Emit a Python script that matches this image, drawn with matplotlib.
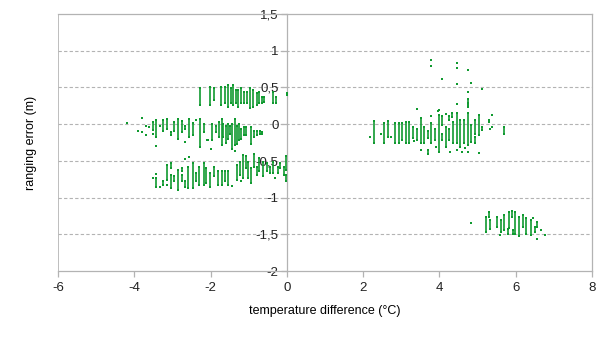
import numpy as np
import matplotlib
matplotlib.use("Agg")
import matplotlib.pyplot as plt

plt.rcParams['font.family'] = ['Liberation Sans', 'DejaVu Sans']
plt.rcParams['axes.unicode_minus'] = False

# each mark: (temperature difference, ranging error top, ranging error bottom)
# single points have top == bottom
upper_left = [
    (-2.28, 0.49, 0.26), (-2.02, 0.50, 0.26), (-1.91, 0.49, 0.33), (-1.73, 0.50, 0.26),
    (-1.63, 0.50, 0.29), (-1.55, 0.53, 0.23), (-1.47, 0.49, 0.29), (-1.42, 0.53, 0.26),
    (-1.34, 0.46, 0.29), (-1.28, 0.46, 0.23), (-1.21, 0.49, 0.29), (-1.13, 0.44, 0.29),
    (-1.05, 0.44, 0.29), (-0.97, 0.49, 0.22), (-0.89, 0.46, 0.23), (-0.79, 0.42, 0.26),
    (-0.73, 0.44, 0.29), (-0.66, 0.37, 0.29), (-0.60, 0.37, 0.30), (-0.37, 0.44, 0.29),
    (-0.29, 0.37, 0.29), (0.00, 0.42, 0.40),
]

middle_left = [
    (-4.19, 0.02, 0.02), (-3.79, 0.09, 0.09), (-3.90, -0.09, -0.09), (-3.81, -0.11, -0.11),
    (-3.70, -0.02, -0.02), (-3.70, -0.15, -0.15), (-3.61, -0.04, -0.04), (-3.51, 0.03, -0.08),
    (-3.51, -0.13, -0.13), (-3.42, 0.05, -0.18), (-3.42, -0.30, -0.30), (-3.33, -0.02, -0.02),
    (-3.24, 0.05, -0.09), (-3.15, 0.07, -0.06), (-3.04, -0.11, -0.15), (-2.95, 0.03, -0.09),
    (-2.85, 0.07, -0.20), (-2.75, 0.04, -0.11), (-2.66, -0.02, -0.06), (-2.66, -0.24, -0.24),
    (-2.57, 0.07, -0.18), (-2.47, 0.01, -0.15), (-2.37, 0.06, 0.06), (-2.28, 0.07, -0.31),
    (-2.18, 0.00, -0.11), (-2.09, -0.22, -0.22), (-2.06, -0.22, -0.22), (-1.97, 0.00, -0.22),
    (-1.86, -0.02, -0.11), (-1.77, 0.03, -0.18), (-1.71, 0.07, -0.29), (-1.67, 0.00, -0.18),
    (-1.60, -0.02, -0.25), (-1.55, 0.00, -0.20), (-1.49, -0.02, -0.13), (-1.43, 0.00, -0.34),
    (-1.36, 0.07, -0.29), (-1.30, -0.02, -0.27), (-1.25, 0.00, -0.22), (-1.19, -0.06, -0.20),
    (-1.13, -0.04, -0.15), (-1.06, -0.04, -0.15), (-0.95, -0.04, -0.27), (-0.86, -0.09, -0.18),
    (-0.77, -0.09, -0.15), (-0.71, -0.09, -0.13), (-0.65, -0.11, -0.13),
]

lower_left = [
    (-3.42, -0.68, -0.68), (-3.51, -0.73, -0.73), (-3.42, -0.74, -0.85), (-3.33, -0.85, -0.85),
    (-3.24, -0.78, -0.83), (-3.15, -0.55, -0.76), (-3.13, -0.83, -0.83), (-3.04, -0.53, -0.60),
    (-3.04, -0.69, -0.87), (-2.95, -0.71, -0.78), (-2.85, -0.62, -0.90), (-2.76, -0.69, -0.78),
    (-2.75, -0.60, -0.64), (-2.67, -0.78, -0.85), (-2.67, -0.48, -0.48), (-2.59, -0.58, -0.87),
    (-2.56, -0.45, -0.45), (-2.47, -0.53, -0.87), (-2.37, -0.67, -0.78), (-2.30, -0.58, -0.83),
    (-2.18, -0.53, -0.83), (-2.11, -0.60, -0.80), (-2.00, -0.34, -0.34), (-2.02, -0.67, -0.85),
    (-1.91, -0.58, -0.71), (-1.80, -0.64, -0.83), (-1.71, -0.64, -0.83), (-1.63, -0.64, -0.78),
    (-1.54, -0.64, -0.83), (-1.43, -0.84, -0.84), (-1.35, -0.37, -0.37), (-1.32, -0.55, -0.76),
    (-1.23, -0.51, -0.69), (-1.21, -0.78, -0.78), (-1.15, -0.42, -0.74), (-1.06, -0.44, -0.60),
    (-1.01, -0.51, -0.74), (-0.95, -0.60, -0.80), (-0.86, -0.40, -0.58), (-0.79, -0.58, -0.69),
    (-0.73, -0.46, -0.64), (-0.62, -0.51, -0.71), (-0.53, -0.53, -0.64), (-0.45, -0.58, -0.67),
    (-0.36, -0.51, -0.67), (-0.31, -0.74, -0.74), (-0.24, -0.58, -0.67), (-0.18, -0.53, -0.60),
    (-0.08, -0.58, -0.69), (-0.01, -0.44, -0.62), (-0.01, -0.69, -0.78),
]

middle_right = [
    (2.18, -0.17, -0.17), (2.28, 0.04, -0.25), (2.46, -0.14, -0.14), (2.55, 0.01, -0.25),
    (2.66, 0.04, -0.17), (2.74, -0.17, -0.17), (2.83, 0.01, -0.25), (2.94, 0.02, -0.26),
    (3.03, 0.01, -0.21), (3.12, 0.03, -0.25), (3.21, 0.03, -0.26), (3.30, -0.04, -0.19),
    (3.33, -0.23, -0.23), (3.42, 0.21, 0.21), (3.42, -0.06, -0.21), (3.51, 0.08, -0.26),
    (3.51, -0.35, -0.35), (3.60, -0.04, -0.26), (3.70, -0.35, -0.41), (3.70, -0.10, -0.19),
    (3.79, 0.01, -0.26), (3.79, 0.11, 0.11), (3.88, -0.06, -0.21), (3.90, -0.31, -0.31),
    (3.99, 0.19, 0.19), (3.99, 0.12, -0.38), (4.07, 0.11, -0.01), (4.07, -0.13, -0.21),
    (4.16, 0.14, 0.14), (4.17, -0.04, -0.31), (4.26, -0.06, -0.22), (4.26, 0.11, 0.05),
    (4.27, -0.38, -0.38), (4.34, 0.15, 0.10), (4.36, 0.03, -0.26), (4.47, 0.27, 0.27),
    (4.47, 0.15, -0.26), (4.47, -0.35, -0.35), (4.55, 0.05, -0.31), (4.58, -0.38, -0.38),
    (4.64, 0.05, -0.26), (4.67, -0.33, -0.33), (4.74, 0.29, 0.24), (4.74, 0.15, -0.29),
    (4.74, -0.38, -0.38), (4.84, -0.01, -0.24), (4.93, 0.05, -0.13), (4.93, -0.17, -0.26),
    (5.03, 0.12, -0.15), (5.03, -0.39, -0.39), (5.12, -0.04, -0.08), (5.30, 0.05, 0.03),
    (5.32, -0.06, -0.06), (5.39, 0.12, 0.12), (5.39, -0.04, -0.04), (5.70, -0.04, -0.13),
]

upper_right = [
    (3.79, 0.87, 0.87), (3.79, 0.79, 0.79), (4.45, 0.83, 0.83), (4.45, 0.77, 0.77),
    (4.74, 0.74, 0.74), (4.07, 0.61, 0.61), (4.45, 0.54, 0.54), (4.83, 0.56, 0.56),
    (5.12, 0.48, 0.48), (4.74, 0.44, 0.44), (4.74, 0.34, 0.24), (4.45, 0.27, 0.27),
    (3.42, 0.21, 0.21), (3.97, 0.18, 0.18),
]

lower_right = [
    (4.82, -1.34, -1.34), (5.21, -1.26, -1.47), (5.30, -1.19, -1.26), (5.32, -1.31, -1.43),
    (5.50, -1.26, -1.40), (5.58, -1.51, -1.51), (5.61, -1.31, -1.47), (5.70, -1.24, -1.44),
    (5.79, -1.43, -1.49), (5.83, -1.19, -1.42), (5.89, -1.18, -1.26), (5.92, -1.44, -1.49),
    (5.98, -1.20, -1.49), (6.09, -1.26, -1.52), (6.20, -1.24, -1.40), (6.28, -1.28, -1.49),
    (6.39, -1.31, -1.51), (6.46, -1.28, -1.28), (6.50, -1.40, -1.47), (6.57, -1.33, -1.40),
    (6.66, -1.44, -1.44), (6.55, -1.56, -1.56), (6.76, -1.51, -1.51),
]

x_ticks = [-6, -4, -2, 0, 2, 4, 6, 8]
y_ticks = [-2, -1.5, -1, -0.5, 0, 0.5, 1, 1.5]
y_tick_labels = ['-2', '-1,5', '-1', '-0,5', '0', '0,5', '1', '1,5']

GREEN = '#109a30'
GRAY = '#b3b3b3'

fig = plt.figure(figsize=(6.05, 3.4), dpi=100)
ax = fig.add_axes([58 / 605, 1 - 271 / 340, 534 / 605, 257 / 340])

marks = np.array(upper_left + middle_left + lower_left + middle_right + upper_right + lower_right)
xs, tops, bots = marks[:, 0], marks[:, 1], marks[:, 2]

ax.vlines(xs, bots, tops, colors=GREEN, linewidth=1.2, zorder=3)
ax.scatter(np.concatenate([xs, xs]), np.concatenate([tops, bots]),
           marker='s', s=2.2, color=GREEN, linewidths=0, zorder=3)

ax.set_xlim(-6, 8)
ax.set_ylim(-2, 1.5)
ax.set_xticks(x_ticks)
ax.set_xticklabels([str(t) for t in x_ticks])
ax.set_yticks(y_ticks)
ax.set_yticklabels(y_tick_labels)

# y axis crosses at x = 0, frame drawn around plot area
ax.spines['left'].set_position(('data', 0))
for side in ['left', 'right', 'top', 'bottom']:
    ax.spines[side].set_color(GRAY)
    ax.spines[side].set_linewidth(0.9)
ax.axvline(-6, color=GRAY, linewidth=1.2, zorder=1)

for y in y_ticks[1:-1]:
    ax.axhline(y, color=GRAY, linestyle=(0, (3, 2)), linewidth=0.8, zorder=1)

ax.tick_params(axis='both', direction='out', length=4, width=0.9, color=GRAY,
               labelsize=9.5, labelcolor='#222222')
ax.tick_params(axis='x', pad=4)
ax.tick_params(axis='y', pad=2)

ax.set_xlabel('temperature difference (°C)', fontsize=9, labelpad=8)
ax.set_ylabel('ranging error (m)', fontsize=9)
ax.yaxis.set_label_coords(-0.039, 0.5, transform=ax.transAxes)

fig.savefig('out.png', dpi=100)
